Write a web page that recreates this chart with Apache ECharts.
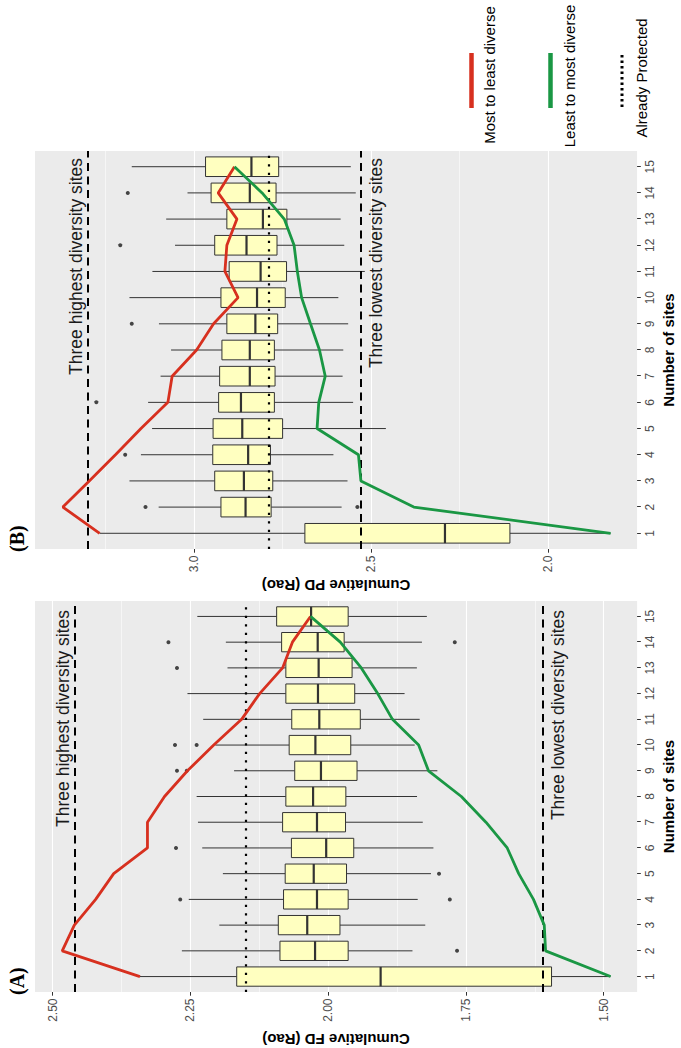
<!DOCTYPE html>
<html>
<head>
<meta charset="utf-8">
<title>Cumulative FD and PD by number of sites</title>
<script src="https://cdn.jsdelivr.net/npm/echarts@6/dist/echarts.min.js"></script>
<style>
  html, body { margin: 0; padding: 0; background: #fff; overflow: hidden; }
  /* the figure is drawn upright (1048 x 681) and then turned a quarter to the left */
  #chart {
    position: absolute; left: 0; top: 0;
    width: 1048px; height: 681px;
    transform-origin: 0 0;
    transform: translateY(1048px) rotate(-90deg);
  }
</style>
</head>
<body>
<div id="chart"></div>
<script>
// number of sites (x)
const sites = [1, 2, 3, 4, 5, 6, 7, 8, 9, 10, 11, 12, 13, 14, 15];

// (A) cumulative FD (Rao) - boxplot stats per number of sites
const fdMin = [1.4875, 1.8470, 1.8238, 1.8375, 1.8134, 1.8090, 1.8283, 1.8387, 1.8018, 1.8430, 1.8339, 1.8613, 1.8390, 1.8298, 1.8209];
const fdQ1  = [1.5946, 1.9637, 1.9786, 1.9637, 1.9667, 1.9536, 1.9685, 1.9679, 1.9476, 1.9590, 1.9417, 1.9518, 1.9566, 1.9710, 1.9637];
const fdMed = [1.9048, 2.0238, 2.0380, 2.0203, 2.0262, 2.0036, 2.0203, 2.0274, 2.0131, 2.0232, 2.0161, 2.0185, 2.0173, 2.0190, 2.0310];
const fdQ3  = [2.1660, 2.0875, 2.0905, 2.0810, 2.0780, 2.0667, 2.0827, 2.0768, 2.0607, 2.0708, 2.0661, 2.0768, 2.0768, 2.0845, 2.0935];
const fdMax = [2.3416, 2.2655, 2.1976, 2.2530, 2.1911, 2.2286, 2.2363, 2.2387, 2.1708, 2.2048, 2.2268, 2.2554, 2.1827, 2.1857, 2.2375];
const fdOutliers = [[2, 1.7661], [4, 2.2685], [4, 1.7792], [5, 1.7988], [6, 2.2762], [9, 2.2744], [9, 2.2566],
                    [10, 2.2780], [10, 2.2387], [13, 2.2744], [14, 2.2899], [14, 1.7702]];
const fdMostToLeast = [2.3416, 2.4827, 2.4607, 2.4220, 2.3893, 2.3280, 2.3280, 2.2970, 2.2554, 2.2077, 2.1571, 2.1244, 2.0827, 2.0649, 2.0321];
const fdLeastToMost = [1.4875, 1.6054, 1.6078, 1.6274, 1.6542, 1.6750, 1.7137, 1.7583, 1.8179, 1.8358, 1.8833, 1.9101, 1.9399, 1.9780, 2.0321];
const fdHighest = 2.4637;
const fdLowest = 1.6066;
const fdProtected = 2.147;
const fdTicks = [1.5, 1.75, 2.0, 2.25, 2.5];
const fdMinorTicks = [1.625, 1.875, 2.125, 2.375];

// (B) cumulative PD (Rao)
const pdMin = [1.8241, 2.5835, 2.5668, 2.6066, 2.4585, 2.5510, 2.5807, 2.5788, 2.5650, 2.5927, 2.5180, 2.5760, 2.5862, 2.5436, 2.5575];
const pdQ1  = [2.1083, 2.7825, 2.7779, 2.7844, 2.7501, 2.7733, 2.7714, 2.7733, 2.7640, 2.7427, 2.7390, 2.7659, 2.7380, 2.7686, 2.7612];
const pdMed = [2.2917, 2.8547, 2.8594, 2.8474, 2.8640, 2.8677, 2.8427, 2.8427, 2.8270, 2.8223, 2.8122, 2.8520, 2.8057, 2.8427, 2.8381];
const pdQ3  = [2.6872, 2.9242, 2.9418, 2.9473, 2.9464, 2.9307, 2.9279, 2.9214, 2.9075, 2.9242, 2.9010, 2.9418, 2.9075, 2.9520, 2.9677];
const pdMax = [3.2668, 3.1001, 3.1825, 3.1501, 3.1186, 3.1298, 3.0946, 3.0650, 3.0992, 3.1825, 3.1177, 3.0538, 3.0788, 3.0186, 3.1760];
const pdOutliers = [[2, 3.1372], [2, 2.5390], [4, 3.1946], [6, 3.2760], [9, 3.1760], [12, 3.2085], [14, 3.1872]];
const pdMostToLeast = [3.2667, 3.3705, 3.2960, 3.2220, 3.1500, 3.0740, 3.0620, 2.9930, 2.9450, 2.8759, 2.9130, 2.9075, 2.8790, 2.9320, 2.8860];
const pdLeastToMost = [1.8241, 2.3797, 2.5290, 2.5360, 2.6528, 2.6480, 2.6297, 2.6460, 2.6714, 2.6964, 2.7085, 2.7177, 2.7454, 2.8080, 2.8860];
const pdHighest = 3.304;
const pdLowest = 2.528;
const pdProtected = 2.787;
const pdTicks = [2.0, 2.5, 3.0];
const pdMinorTicks = [1.75, 2.25, 2.75, 3.25];

const RED = "#D7301F";
const GREEN = "#1A9744";
const SANS = "Liberation Sans";
const BOX_W = 0.75;

const chart = echarts.init(document.getElementById("chart"), null, { renderer: "svg" });

// whiskers without caps, box, thick median (ggplot style)
function renderBox(params, api) {
  const x = api.value(0);
  const lo = api.coord([x, api.value(1)]);
  const q1 = api.coord([x, api.value(2)]);
  const md = api.coord([x, api.value(3)]);
  const q3 = api.coord([x, api.value(4)]);
  const hi = api.coord([x, api.value(5)]);
  const half = api.size([BOX_W, 0])[0] / 2;
  const cx = lo[0];
  const stroke = { stroke: "#333", lineWidth: 1 };
  return {
    type: "group",
    children: [
      { type: "line", shape: { x1: cx, y1: lo[1], x2: cx, y2: q1[1] }, style: stroke },
      { type: "line", shape: { x1: cx, y1: q3[1], x2: cx, y2: hi[1] }, style: stroke },
      {
        type: "rect",
        shape: { x: cx - half, y: q3[1], width: half * 2, height: q1[1] - q3[1] },
        style: { fill: "#FFFFC0", stroke: "#333", lineWidth: 1 },
      },
      { type: "line", shape: { x1: cx - half, y1: md[1], x2: cx + half, y2: md[1] }, style: { stroke: "#333", lineWidth: 2.2 } },
    ],
  };
}

function xAxisFor(gridIndex) {
  return {
    type: "value",
    gridIndex: gridIndex,
    min: 0.4,
    max: 15.6,
    axisLine: { show: false },
    axisTick: { show: true, customValues: sites, length: 3.7, lineStyle: { color: "#333", width: 1 } },
    axisLabel: { customValues: sites, color: "#4d4d4d", fontSize: 12, fontFamily: SANS, margin: 7 },
    splitLine: { show: false },
    name: "Number of sites",
    nameLocation: "middle",
    nameGap: 21,
    nameTextStyle: { fontSize: 15, fontWeight: "bold", color: "#000", fontFamily: SANS },
  };
}

function yAxisFor(gridIndex, min, max, ticks, digits, name, gap) {
  return {
    type: "value",
    gridIndex: gridIndex,
    min: min,
    max: max,
    axisLine: { show: false },
    axisTick: { show: true, customValues: ticks, length: 3.7, lineStyle: { color: "#333", width: 1 } },
    axisLabel: {
      customValues: ticks,
      formatter: (v) => v.toFixed(digits),
      color: "#4d4d4d", fontSize: 12, fontFamily: SANS, margin: 6.5,
    },
    splitLine: { show: true, lineStyle: { color: "#fff", width: 1.1 } },
    name: name,
    nameLocation: "middle",
    nameGap: gap,
    nameTextStyle: { fontSize: 15, fontWeight: "bold", color: "#000", fontFamily: SANS },
  };
}

function yMinorFor(gridIndex, min, max, ticks) {
  return {
    type: "value",
    gridIndex: gridIndex,
    min: min,
    max: max,
    position: "left",
    axisLine: { show: false },
    axisTick: { show: false, customValues: ticks },
    axisLabel: { show: false },
    splitLine: { show: true, lineStyle: { color: "#fff", width: 0.55 } },
  };
}

function refLines(highest, lowest, protectedVal, inset) {
  const dashed = { color: "#000", width: 2, type: [8, 5.5] };
  const text = { color: "#1a1a1a", fontSize: 17.5, fontFamily: SANS };
  return {
    silent: true,
    symbol: ["none", "none"],
    animation: false,
    data: [
      {
        yAxis: highest, lineStyle: dashed,
        label: Object.assign({ show: true, position: "insideEndTop", formatter: "Three highest diversity sites", distance: [inset, 3] }, text),
      },
      {
        yAxis: lowest, lineStyle: dashed,
        label: Object.assign({ show: true, position: "insideEndBottom", formatter: "Three lowest diversity sites", distance: [inset, 6] }, text),
      },
      {
        yAxis: protectedVal,
        lineStyle: { color: "#000", width: 2.2, type: [2.2, 6.3] },
        label: { show: false },
      },
    ],
  };
}

function panelSeries(xi, yi, mins, q1s, meds, q3s, maxs, outliers, most, least, ref) {
  return [
    {
      type: "custom",
      xAxisIndex: xi, yAxisIndex: yi,
      renderItem: renderBox,
      encode: { x: 0, y: [1, 2, 3, 4, 5] },
      data: sites.map((s, i) => [s, mins[i], q1s[i], meds[i], q3s[i], maxs[i]]),
      z: 2,
      silent: true,
    },
    {
      type: "scatter",
      xAxisIndex: xi, yAxisIndex: yi,
      data: outliers,
      symbolSize: 4,
      itemStyle: { color: "#1a1a1a" },
      z: 3,
      silent: true,
    },
    {
      name: "Most to least diverse",
      type: "line",
      xAxisIndex: xi, yAxisIndex: yi,
      data: sites.map((s, i) => [s, most[i]]),
      showSymbol: false,
      lineStyle: { color: RED, width: 2.8 },
      z: 5,
      markLine: ref,
    },
    {
      name: "Least to most diverse",
      type: "line",
      xAxisIndex: xi, yAxisIndex: yi,
      data: sites.map((s, i) => [s, least[i]]),
      showSymbol: false,
      lineStyle: { color: GREEN, width: 2.8 },
      z: 5,
    },
  ];
}

const legendText = { fill: "#000", font: '15px "Liberation Sans"', align: "center", verticalAlign: "middle" };

const option = {
  animation: false,
  backgroundColor: "#fff",
  grid: [
    { left: 56, top: 35, width: 391, height: 612, show: true, backgroundColor: "#EBEBEB", borderWidth: 0 },
    { left: 499, top: 35, width: 398, height: 612, show: true, backgroundColor: "#EBEBEB", borderWidth: 0 },
  ],
  xAxis: [xAxisFor(0), xAxisFor(1)],
  yAxis: [
    yAxisFor(0, 1.4393, 2.5321, fdTicks, 2, "Cumulative FD (Rao)", 40),
    yMinorFor(0, 1.4393, 2.5321, fdMinorTicks),
    yAxisFor(1, 1.7492, 3.4492, pdTicks, 1, "Cumulative PD (Rao)", 29),
    yMinorFor(1, 1.7492, 3.4492, pdMinorTicks),
  ],
  series: [].concat(
    panelSeries(0, 0, fdMin, fdQ1, fdMed, fdQ3, fdMax, fdOutliers, fdMostToLeast, fdLeastToMost,
      refLines(fdHighest, fdLowest, fdProtected, 9)),
    panelSeries(1, 2, pdMin, pdQ1, pdMed, pdQ3, pdMax, pdOutliers, pdMostToLeast, pdLeastToMost,
      refLines(pdHighest, pdLowest, pdProtected, 7))
  ),
  graphic: [
    { type: "text", x: 53, y: 16.5, style: { text: "(A)", fill: "#000", font: 'bold 20px "Liberation Serif"', verticalAlign: "middle" } },
    { type: "text", x: 496, y: 16.5, style: { text: "(B)", fill: "#000", font: 'bold 20px "Liberation Serif"', verticalAlign: "middle" } },
    // legend
    { type: "line", shape: { x1: 940, y1: 471.5, x2: 995, y2: 471.5 }, style: { stroke: RED, lineWidth: 4.5 } },
    { type: "text", x: 973, y: 489, style: Object.assign({ text: "Most to least diverse" }, legendText) },
    { type: "line", shape: { x1: 940, y1: 550.5, x2: 995, y2: 550.5 }, style: { stroke: GREEN, lineWidth: 4.5 } },
    { type: "text", x: 972, y: 569, style: Object.assign({ text: "Least to most diverse" }, legendText) },
    { type: "line", shape: { x1: 941, y1: 622, x2: 995, y2: 622 }, style: { stroke: "#000", lineWidth: 3, lineDash: [2.5, 3] } },
    { type: "text", x: 970, y: 641, style: Object.assign({ text: "Already Protected" }, legendText) },
  ],
};

chart.setOption(option);
</script>
</body>
</html>
